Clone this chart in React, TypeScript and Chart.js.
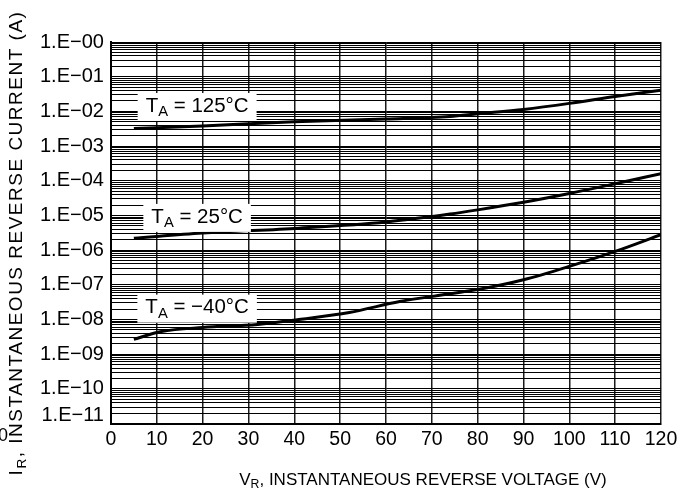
import React, { useEffect, useRef } from "react";
import { Chart, registerables } from "chart.js";

Chart.register(...registerables);

const FONT = '"Liberation Sans", Arial, Helvetica, sans-serif';

// X axis (reverse voltage, V)
const VOLTAGE_TICKS = [0, 10, 20, 30, 40, 50, 60, 70, 80, 90, 100, 110, 120];

// Y axis decades (exponent) and their labels
const Y_DECADES = [0, -1, -2, -3, -4, -5, -6, -7, -8, -9, -10, -11];
const Y_TICK_LABELS = [
  "1.E−00", "1.E−01", "1.E−02", "1.E−03", "1.E−04", "1.E−05",
  "1.E−06", "1.E−07", "1.E−08", "1.E−09", "1.E−10", "1.E−11",
];
const Y_MANTISSAS = [1, 2, 3, 4, 5, 6, 7, 8, 9];

// T_A = 125°C
const V_125 = [5, 20, 40, 60, 74, 80, 90, 100, 110, 120];
const I_125 = [3.2e-3, 3.8e-3, 5.0e-3, 6.0e-3, 7.1e-3, 8.5e-3, 1.14e-2, 1.7e-2, 2.7e-2, 4.1e-2];

// T_A = 25°C
const V_25 = [5, 20, 41, 60, 74, 80, 90, 100, 110, 120];
const I_25 = [2.2e-6, 3.1e-6, 4.3e-6, 6.5e-6, 1.1e-5, 1.45e-5, 2.4e-5, 4.3e-5, 8.2e-5, 1.6e-4];

// T_A = -40°C
const V_M40 = [5, 11, 20, 32, 41, 52, 63, 74, 80, 90, 100, 110, 120];
const I_M40 = [2.7e-9, 4.5e-9, 5.9e-9, 7.2e-9, 1.0e-8, 1.6e-8, 3.3e-8, 5.5e-8, 7.3e-8, 1.4e-7, 3.4e-7, 9.2e-7, 2.8e-6];

// Curve labels (text after "T_A = ") and their anchor in data coordinates
const LABEL_TEMPS = ["125°C", "25°C", "−40°C"];
const LABEL_V = [18.8, 18.8, 18.8];
const LABEL_I = [1.34e-2, 8.5e-6, 2.06e-8];

const X_TITLE = [{ t: "V" }, { t: "R", sub: true }, { t: ", INSTANTANEOUS REVERSE VOLTAGE (V)" }];
const Y_TITLE = [{ t: "I" }, { t: "R", sub: true }, { t: ", INSTANTANEOUS REVERSE CURRENT (A)" }];

type Part = { t: string; sub?: boolean };

function partsWidth(ctx: CanvasRenderingContext2D, parts: Part[], size: number) {
  let w = 0;
  for (const p of parts) {
    ctx.font = `${p.sub ? size * 0.72 : size}px ${FONT}`;
    w += ctx.measureText(p.t).width;
  }
  return w;
}

function drawParts(ctx: CanvasRenderingContext2D, parts: Part[], xLeft: number, yMid: number, size: number) {
  ctx.textBaseline = "middle";
  ctx.textAlign = "left";
  ctx.fillStyle = "#000";
  let x = xLeft;
  for (const p of parts) {
    const s = p.sub ? size * 0.72 : size;
    ctx.font = `${s}px ${FONT}`;
    ctx.fillText(p.t, x, p.sub ? yMid + size * 0.3 : yMid);
    x += ctx.measureText(p.t).width;
  }
}

function isDecade(v: number) {
  const e = Math.log10(v);
  return Math.abs(e - Math.round(e)) < 1e-6;
}

const annotationPlugin = {
  id: "curveLabels",
  afterDatasetsDraw(chart: any) {
    const ctx: CanvasRenderingContext2D = chart.ctx;
    const xs = chart.scales.x;
    const ys = chart.scales.y;
    const size = 20.5;
    ctx.save();
    LABEL_TEMPS.forEach((temp, i) => {
      const parts: Part[] = [{ t: "T" }, { t: "A", sub: true }, { t: " = " + temp }];
      const cx = xs.getPixelForValue(LABEL_V[i]);
      const cy = ys.getPixelForValue(LABEL_I[i]);
      const w = partsWidth(ctx, parts, size);
      const bw = w + 16;
      const bh = 28;
      ctx.fillStyle = "#fff";
      ctx.fillRect(cx - bw / 2, cy - bh / 2, bw, bh);
      drawParts(ctx, parts, cx - w / 2, cy - 1, size);
    });
    ctx.restore();
  },
  afterDraw(chart: any) {
    const ctx: CanvasRenderingContext2D = chart.ctx;
    ctx.save();
    // x axis title
    const xs = 17;
    const xw = partsWidth(ctx, X_TITLE, xs);
    drawParts(ctx, X_TITLE, 423 - xw / 2, 480, xs);
    // y axis title (rotated)
    ctx.save();
    (ctx as any).letterSpacing = "1.5px";
    const ysz = 19;
    ctx.translate(17, 243);
    ctx.rotate(-Math.PI / 2);
    const yw = partsWidth(ctx, Y_TITLE, ysz);
    drawParts(ctx, Y_TITLE, -yw / 2, 0, ysz);
    ctx.restore();
    // clipped neighbour axis zero
    ctx.font = `18px ${FONT}`;
    ctx.textAlign = "center";
    ctx.textBaseline = "middle";
    ctx.fillStyle = "#000";
    ctx.fillText("0", 3, 436);
    ctx.restore();
  },
};

function toPoints(xs: number[], ys: number[]) {
  return xs.map((x, i) => ({ x, y: ys[i] }));
}

export default function App() {
  const ref = useRef<HTMLCanvasElement>(null);

  useEffect(() => {
    const canvas = ref.current;
    if (!canvas) return;
    const lineStyle = {
      borderColor: "#000",
      borderWidth: 3,
      pointRadius: 0,
      fill: false,
      cubicInterpolationMode: "monotone" as const,
    };
    const chart = new Chart(canvas, {
      type: "line",
      data: {
        datasets: [
          { label: "TA = 125°C", data: toPoints(V_125, I_125), ...lineStyle },
          { label: "TA = 25°C", data: toPoints(V_25, I_25), ...lineStyle },
          { label: "TA = −40°C", data: toPoints(V_M40, I_M40), ...lineStyle },
        ],
      },
      options: {
        responsive: false,
        animation: false,
        layout: { padding: { left: 33, right: 23, top: 42, bottom: 43 } },
        plugins: { legend: { display: false }, tooltip: { enabled: false } },
        scales: {
          x: {
            type: "linear",
            min: 0,
            max: 120,
            afterBuildTicks: (s: any) => {
              s.ticks = VOLTAGE_TICKS.map((v) => ({ value: v }));
            },
            ticks: {
              autoSkip: false,
              maxRotation: 0,
              padding: 4,
              color: "#000",
              font: { family: FONT, size: 19.5 },
            },
            grid: { color: "#1a1a1a", lineWidth: 1.5, drawTicks: false },
            border: { color: "#000", width: 2 },
          },
          y: {
            type: "logarithmic",
            min: 1e-11,
            max: 1,
            afterBuildTicks: (s: any) => {
              const vals: number[] = [];
              for (let d = Y_DECADES.length - 1; d >= 1; d--) {
                const e = Y_DECADES[d];
                for (const m of Y_MANTISSAS) vals.push(m * Math.pow(10, e));
              }
              vals.push(1);
              s.ticks = vals.map((v) => ({ value: v, major: isDecade(v) }));
            },
            ticks: {
              autoSkip: false,
              padding: 7,
              color: "#000",
              font: (c: any) => ({
                family: FONT,
                size: 20,
                lineHeight: c.tick && isDecade(c.tick.value) && Math.round(Math.log10(c.tick.value)) === -11 ? 0.8 : 1.2,
              }),
              callback: (v: any) => {
                const val = Number(v);
                if (!isDecade(val)) return "";
                const idx = -Math.round(Math.log10(val));
                const lab = Y_TICK_LABELS[idx];
                return idx === 11 ? [lab, ""] : lab;
              },
            },
            grid: { color: "#000", lineWidth: 1, drawTicks: false },
            border: { color: "#000", width: 2 },
          },
        },
      },
      plugins: [annotationPlugin],
    });
    return () => chart.destroy();
  }, []);

  return (
    <div style={{ position: "fixed", left: 0, top: 0, width: 684, height: 498, background: "#fff" }}>
      <canvas ref={ref} width={684} height={498} style={{ display: "block", width: 684, height: 498 }} />
    </div>
  );
}
